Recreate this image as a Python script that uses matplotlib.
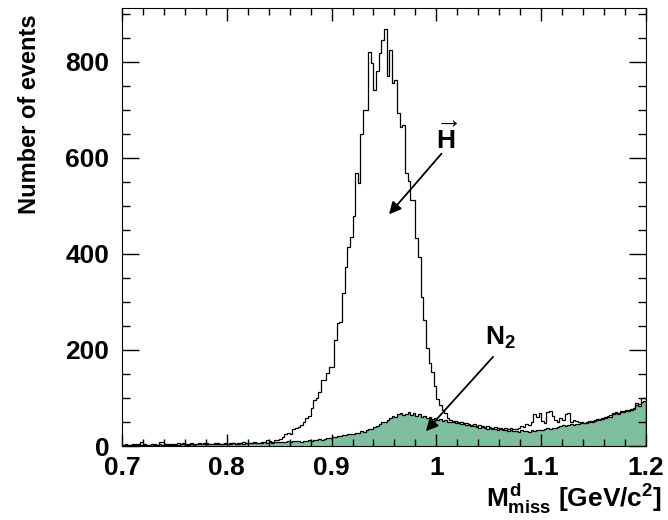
#Missing mass spectrum: full sample (H) and the N2 background, drawn as step histograms
import numpy as np
import matplotlib
matplotlib.use('Agg')
import matplotlib.pyplot as plt
from matplotlib.ticker import MultipleLocator

plt.rcParams['font.family'] = ['Liberation Sans', 'DejaVu Sans']
plt.rcParams['font.weight'] = 'bold'
plt.rcParams['mathtext.fontset'] = 'custom'
plt.rcParams['mathtext.rm'] = 'Liberation Sans:bold'
plt.rcParams['mathtext.bf'] = 'Liberation Sans:bold'
plt.rcParams['mathtext.it'] = 'Liberation Sans:bold'

#200 bins between 0.7 and 1.2 GeV/c^2
x_min, x_max, n_bins = 0.7, 1.2, 200

#counts, bin by bin
h_counts = [3,4,2,3,5,4,3,8,4,3, 2,4,5,3,9,9,4,3,5,3, 4,6,4,6,5,3,6,4,5,7,
            5,6,7,5,4,6,7,5,4,6, 5,7,6,5,7,6,8,6,7,6, 8,7,
            7,9,8,12,10,8,13,13,14,19,26,28,25,35,37,40,
            44,50,58,62,80,96,100,113,137,137,151,165,165,221,256,258,318,373,415,436,
            478,568,548,650,700,700,821,797,742,780,818,845,868,770,825,756,762,694,665,668,
            569,551,512,512,433,394,311,262,205,172,155,125,98,86,74,68,
            58,54,52,53,50,49,47,48,46,44,45,42,43,41,40,42,39,38,40,37,38,36,38,35,37,35,
            36,38,42,40,46,44,50,66,60,68,52,48,70,72,62,55,50,58,54,66,68,50,55,52,49,50,48,51,52,53,
            54,56,57,58,60,62,64,69,70,68,73,72,74,75,77,80,90,87,100,99]

n2_counts = [2,3,2,3,3,2,4,3,3,2, 3,4,3,3,4,3,2,4,3,4, 3,3,4,4,3,5,4,3,4,5, 4,4,5,4,5,4,5,5,4,5,
             5,4,6,5,5,6,5,6,7,6, 6,7,6,7,8,7,8,7,8,9,
             8,9,8,10,9,10,11,10,9,11, 10,12,11,13,12,14,13,15,16,17,
             19,18,21,20,23,22,25,24,26,28, 27,31,30,34,36,35,40,42,45,51,
             50,55,58,62,60,66,69,64,67,71,65,68,
             63,66,60,62,58,61,56,58,55,57,52,54,51,49,50,47,
             48,45,46,43,44,41,42,40,38,39,37,36,38,35,36,34,
             35,33,34,32,33,31,32,30,33,31,32,30,33,32,34,33,
             34,35,37,36,38,37,40,41,44,42,43,45,44,46,45,47,48,47,50,51,
             52,54,55,56,58,60,61,66,68,66,70,71,72,73,75,78,86,84,92,94]

edges = np.linspace(x_min, x_max, n_bins + 1)

fig = plt.figure(figsize=(6.68, 5.2), dpi=100)
ax = fig.add_axes([0.1826, 0.1423, 0.967 - 0.1826, 0.9846 - 0.1423])

#green background first, then the outlines on top
ax.stairs(n2_counts, edges, fill=True, color='#7fbf9f', lw=0)
ax.stairs(n2_counts, edges, color='black', lw=0.9)
ax.stairs(h_counts, edges, color='black', lw=0.9)

ax.set_xlim(x_min, x_max)
ax.set_ylim(0, 912)

ax.xaxis.set_major_locator(MultipleLocator(0.1))
ax.xaxis.set_minor_locator(MultipleLocator(0.02))
ax.yaxis.set_major_locator(MultipleLocator(200))
ax.yaxis.set_minor_locator(MultipleLocator(50))
ax.xaxis.set_major_formatter(plt.FuncFormatter(lambda v, p: f'{v:g}'))

ax.tick_params(axis='both', which='both', direction='in', top=True, right=True, labelsize=19, width=1)
ax.tick_params(axis='x', which='major', length=9, pad=7)
ax.tick_params(axis='x', which='minor', length=5)
ax.tick_params(axis='y', which='major', length=12, pad=9)
ax.tick_params(axis='y', which='minor', length=6)
for lab in ax.get_xticklabels() + ax.get_yticklabels():
    lab.set_fontweight('bold')

ax.set_ylabel('Number of events', fontsize=17, fontweight='bold', loc='top')
ax.yaxis.set_label_coords(-0.155, 0.985)
ax.set_xlabel(r'$M^{d}_{miss}$ [GeV/c$^{2}$]', fontsize=19, fontweight='bold', loc='right')
ax.xaxis.set_label_coords(1.03, -0.082)

#labels with arrows
ax.annotate('', xy=(0.9531, 478), xytext=(1.0066, 613),
            arrowprops=dict(arrowstyle='-|>', color='black', lw=1.3, mutation_scale=18))
ax.text(1.0096, 640, r'$\overrightarrow{\mathbf{H}}$', fontsize=19, ha='center', va='center')
ax.annotate('', xy=(0.9882, 26.5), xytext=(1.0559, 190),
            arrowprops=dict(arrowstyle='-|>', color='black', lw=1.3, mutation_scale=18))
ax.text(1.046, 225, r'N$_{\mathbf{2}}$', fontsize=19, fontweight='bold', ha='left', va='center')

fig.savefig('out.png', dpi=100)
